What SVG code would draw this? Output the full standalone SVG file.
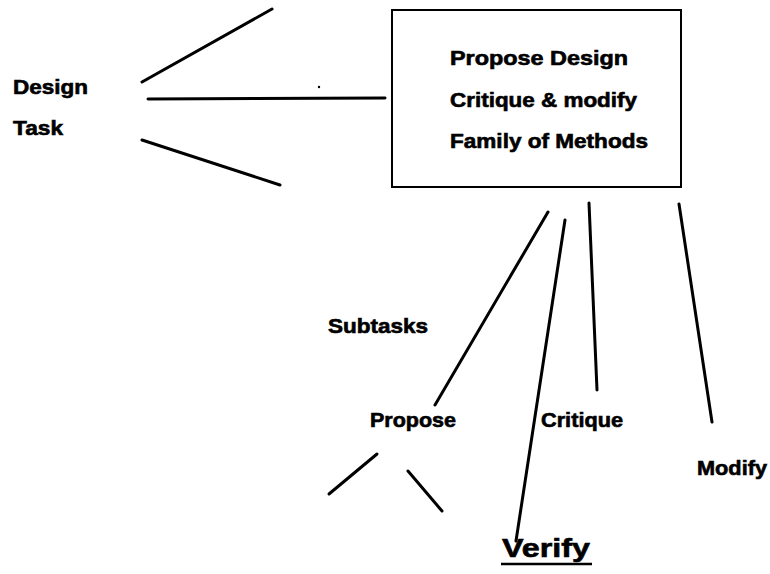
<svg xmlns="http://www.w3.org/2000/svg" width="770" height="574" viewBox="0 0 770 574">
  <style>
    .lbl { font-family: "Liberation Sans", Arial, sans-serif; font-weight: bold; font-size: 19.5px; fill: #000; stroke: #000; stroke-width: 0.6; }
    .big { font-size: 25px; }
    .ln { stroke: #000; stroke-width: 3; stroke-linecap: round; fill: none; }
    .box { stroke: #000; stroke-width: 2; fill: #fff; }
  </style>
  <rect width="770" height="574" fill="#fff"/>

  <!-- connectors -->
  <g id="connectors">
    <line class="ln" x1="142" y1="82" x2="272" y2="9"/>
    <line class="ln" x1="148" y1="99" x2="385" y2="98"/>
    <line class="ln" x1="142" y1="140" x2="280" y2="185"/>
    <line class="ln" x1="548" y1="212" x2="435" y2="405"/>
    <line class="ln" x1="565" y1="220" x2="516" y2="541"/>
    <line class="ln" x1="589" y1="203" x2="597" y2="390"/>
    <line class="ln" x1="679" y1="204" x2="712" y2="422"/>
    <line class="ln" x1="377" y1="454" x2="329" y2="494"/>
    <line class="ln" x1="408" y1="471" x2="442" y2="511"/>
    <circle cx="319" cy="87" r="1.2" fill="#000"/>
  </g>

  <!-- task node -->
  <g id="design-task">
    <text class="lbl" x="13" y="94" textLength="75" lengthAdjust="spacingAndGlyphs">Design</text>
    <text class="lbl" x="13" y="135" textLength="50" lengthAdjust="spacingAndGlyphs">Task</text>
  </g>

  <!-- methods box -->
  <g id="methods">
    <rect class="box" x="392" y="10" width="289" height="177"/>
    <text class="lbl" x="450" y="65" textLength="178" lengthAdjust="spacingAndGlyphs">Propose Design</text>
    <text class="lbl" x="450" y="107" textLength="187" lengthAdjust="spacingAndGlyphs">Critique &amp; modify</text>
    <text class="lbl" x="450" y="148" textLength="198" lengthAdjust="spacingAndGlyphs">Family of Methods</text>
  </g>

  <g id="subtasks">
    <text class="lbl" x="328" y="333" textLength="100" lengthAdjust="spacingAndGlyphs">Subtasks</text>
  </g>

  <g id="propose">
    <text class="lbl" x="370" y="427" textLength="86" lengthAdjust="spacingAndGlyphs">Propose</text>
  </g>

  <g id="critique">
    <text class="lbl" x="541" y="427" textLength="82" lengthAdjust="spacingAndGlyphs">Critique</text>
  </g>

  <g id="modify">
    <text class="lbl" x="697" y="475" textLength="70" lengthAdjust="spacingAndGlyphs">Modify</text>
  </g>

  <g id="verify">
    <text class="lbl big" x="502" y="557" textLength="88" lengthAdjust="spacingAndGlyphs">Verify</text>
    <line x1="501" y1="564" x2="592" y2="564" stroke="#000" stroke-width="2.5"/>
  </g>
</svg>
